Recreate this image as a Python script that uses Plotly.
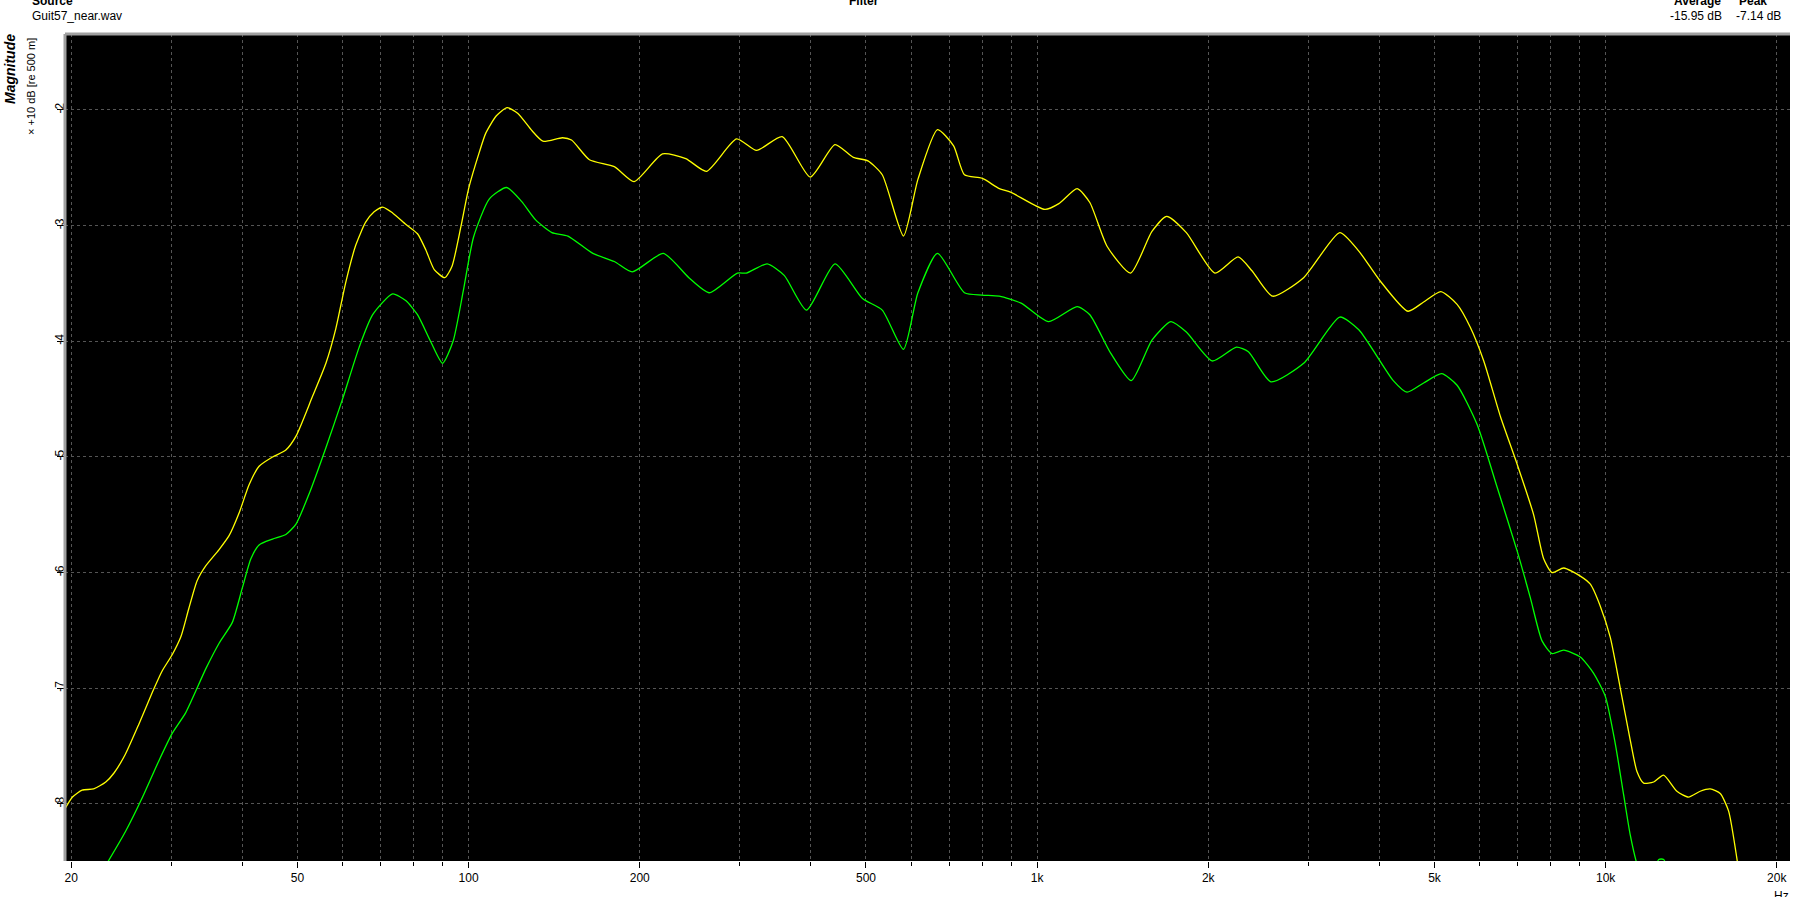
import numpy as np
import plotly.graph_objects as go

# frequency response, values in units of 10 dB (re 500 m)
yellow_f = [19.3, 20.1, 20.9, 21.9, 23.0, 23.8, 24.9, 26.3, 27.8, 28.9, 30.1, 31.2, 32.2, 33.3,
            34.5, 36.4, 37.9, 39.5, 41.1, 42.8, 45.2, 47.7, 49.7, 53.1, 56.1, 58.4, 60.8, 63.3,
            65.9, 68.2, 70.6, 73.5, 77.6, 81.3, 84.1, 87.0, 90.8, 93.5, 97.0, 100, 104.5, 107.2,
            111.9, 116.9, 122.1, 129.3, 135.1, 146.3, 151.7, 163.1, 180.4, 195.4, 219.3, 241,
            262, 296, 321, 356, 399, 441, 475, 504, 534, 582, 617, 668, 713, 745, 800, 858, 898,
            1032, 1092, 1176, 1238, 1328, 1460, 1592, 1690, 1830, 2055, 2257, 2387, 2595, 2943,
            3407, 3680, 4001, 4490, 4785, 5130, 5479, 5783, 6104, 6530, 6985, 7471, 7780, 8050,
            8437, 9026, 9399, 9786, 10190, 10612, 11050, 11353, 11663, 12145, 12643, 13346,
            13989, 14667, 15274, 15905, 16451, 17015, 17500]
yellow_v = [-8.08, -7.94, -7.88, -7.87, -7.81, -7.73, -7.57, -7.31, -7.03, -6.85, -6.71, -6.55,
            -6.31, -6.07, -5.94, -5.80, -5.68, -5.48, -5.24, -5.08, -5.00, -4.94, -4.82, -4.48,
            -4.19, -3.89, -3.49, -3.17, -2.97, -2.88, -2.84, -2.89, -2.99, -3.07, -3.21, -3.38,
            -3.45, -3.35, -3.00, -2.68, -2.36, -2.20, -2.05, -1.98, -2.03, -2.18, -2.27, -2.24,
            -2.26, -2.43, -2.49, -2.62, -2.38, -2.42, -2.53, -2.25, -2.35, -2.23, -2.58, -2.30,
            -2.41, -2.44, -2.56, -3.09, -2.60, -2.17, -2.31, -2.56, -2.59, -2.68, -2.71, -2.86,
            -2.81, -2.68, -2.80, -3.18, -3.41, -3.05, -2.92, -3.06, -3.41, -3.27, -3.39, -3.61,
            -3.45, -3.06, -3.22, -3.47, -3.74, -3.66, -3.57, -3.68, -3.88, -4.17, -4.65, -5.06,
            -5.50, -5.88, -6.00, -5.96, -6.03, -6.10, -6.29, -6.56, -7.00, -7.45, -7.72, -7.82,
            -7.81, -7.75, -7.89, -7.94, -7.89, -7.87, -7.91, -8.06, -8.47, -8.90]

green_f = [23.2, 24.9, 26.7, 28.5, 30.1, 31.8, 34.5, 36.4, 38.4, 40.0, 41.4, 42.8, 45.2, 47.7,
           49.7, 52.4, 56.1, 60.0, 64.2, 67.8, 73.5, 77.6, 81.3, 85.9, 90.0, 93.9, 97.9, 102,
           108.7, 116.6, 123.9, 131.2, 140.1, 149.5, 165.4, 180.4, 194, 220, 244, 265, 297, 308,
           335, 359, 393, 441, 493, 534, 582, 617, 668, 745, 800, 858, 937, 1047, 1176, 1238,
           1346, 1464, 1592, 1719, 1830, 2033, 2242, 2353, 2578, 2943, 3407, 3680, 4231, 4473,
           4785, 5145, 5479, 5942, 6442, 6985, 7374, 7729, 8050, 8437, 9026, 9526, 9987, 10399,
           10755, 11050, 11353, 11800, 12400, 12650, 13100]
green_v = [-8.50, -8.24, -7.94, -7.63, -7.39, -7.21, -6.83, -6.61, -6.43, -6.13, -5.88, -5.76,
           -5.71, -5.67, -5.58, -5.32, -4.92, -4.50, -4.05, -3.77, -3.59, -3.65, -3.77, -4.01,
           -4.19, -4.00, -3.56, -3.10, -2.77, -2.67, -2.79, -2.95, -3.06, -3.09, -3.24, -3.31,
           -3.40, -3.24, -3.45, -3.58, -3.41, -3.41, -3.33, -3.43, -3.73, -3.33, -3.63, -3.73,
           -4.07, -3.58, -3.24, -3.58, -3.60, -3.61, -3.67, -3.83, -3.70, -3.77, -4.10, -4.34,
           -3.99, -3.83, -3.92, -4.17, -4.05, -4.09, -4.35, -4.19, -3.79, -3.90, -4.34, -4.44,
           -4.36, -4.28, -4.38, -4.72, -5.26, -5.81, -6.22, -6.59, -6.70, -6.67, -6.73, -6.87,
           -7.07, -7.48, -7.92, -8.27, -8.52, -8.75, -8.48, -8.48, -8.75]

x_major = [20, 50, 100, 200, 500, 1000, 2000, 5000, 10000, 20000]
x_major_text = ["20", "50", "100", "200", "500", "1k", "2k", "5k", "10k", "20k"]
x_minor = [30, 40, 60, 70, 80, 90, 300, 400, 600, 700, 800, 900,
           3000, 4000, 6000, 7000, 8000, 9000]
y_ticks = [-2, -3, -4, -5, -6, -7, -8]

W, H = 1801, 897
L, R, T, B = 65, 11, 34, 36
FONT = "Liberation Sans, Arial, sans-serif"


def px(x):
    return (x - L) / (W - L - R)


def py(y):
    return (H - B - y) / (H - T - B)


fig = go.Figure()
fig.add_trace(go.Scatter(x=yellow_f, y=yellow_v, mode="lines",
                         line=dict(color="#ffff00", width=1.3, shape="spline", smoothing=0.6),
                         hoverinfo="skip"))
fig.add_trace(go.Scatter(x=green_f, y=green_v, mode="lines",
                         line=dict(color="#00ff00", width=1.3, shape="spline", smoothing=0.6),
                         hoverinfo="skip"))

grid = dict(showgrid=True, gridcolor="#555555", griddash="3px,3px", gridwidth=1)
fig.update_xaxes(type="log", range=[np.log10(19.5), np.log10(21100)],
                 tickmode="array", tickvals=x_major, ticktext=x_major_text,
                 ticks="outside", ticklen=6, tickcolor="#000000", tickwidth=1,
                 minor=dict(tickmode="array", tickvals=x_minor, ticks="outside", ticklen=4,
                            tickcolor="#000000", showgrid=True, gridcolor="#555555",
                            griddash="3px,3px", gridwidth=1),
                 tickfont=dict(family=FONT, size=12, color="#000000"),
                 showline=False, zeroline=False, fixedrange=True, **grid)
fig.update_yaxes(range=[-8.493, -1.343], tickmode="array", tickvals=y_ticks,
                 ticktext=[str(v) for v in y_ticks], tickangle=-90,
                 ticks="outside", ticklen=7, tickcolor="#000000", tickwidth=1,
                 ticklabelstandoff=-12,
                 tickfont=dict(family=FONT, size=12, color="#000000"),
                 showline=False, zeroline=False, fixedrange=True, **grid)

# grey frame on top and left
fig.add_shape(type="line", xref="paper", yref="paper", x0=0, x1=0, y0=0, y1=1,
              line=dict(color="#a0a0a0", width=3))
fig.add_shape(type="line", xref="paper", yref="paper", x0=0, x1=1, y0=1, y1=1,
              line=dict(color="#a0a0a0", width=3))

ann = []
def txt(text, x, y, xanchor="left", size=12, bold=False, italic=False, angle=0):
    s = text
    if bold:
        s = "<b>" + s + "</b>"
    if italic:
        s = "<i>" + s + "</i>"
    ann.append(dict(text=s, x=px(x), y=py(y), xref="paper", yref="paper",
                    xanchor=xanchor, yanchor="middle", showarrow=False, textangle=angle,
                    font=dict(family=FONT, size=size, color="#000000")))

txt("Source", 30, 1, bold=True)
txt("Guit57_near.wav", 30, 16)
txt("Filter", 864, 1, xanchor="center", bold=True)
txt("Average", 1723, 1, xanchor="right", bold=True)
txt("-15.95 dB", 1724, 16, xanchor="right")
txt("Peak", 1737, 1, bold=True)
txt("-7.14 dB", 1734, 16)
txt("Magnitude", 10, 69, xanchor="center", size=14, bold=True, italic=True, angle=-90)
txt("\u00d7 +10 dB [re 500 m]", 31, 87, xanchor="center", size=11, angle=-90)
txt("Hz", 1781, 896, xanchor="center")

fig.update_layout(width=W, height=H, margin=dict(l=L, r=R, t=T, b=B, autoexpand=False),
                  paper_bgcolor="#ffffff", plot_bgcolor="#000000", showlegend=False,
                  annotations=ann)

# the page's default body margin would shift the figure by 8px
fig.write_html("out.html", config={"displayModeBar": False},
               post_script="document.body.style.margin='0';document.body.style.overflow='hidden';")
